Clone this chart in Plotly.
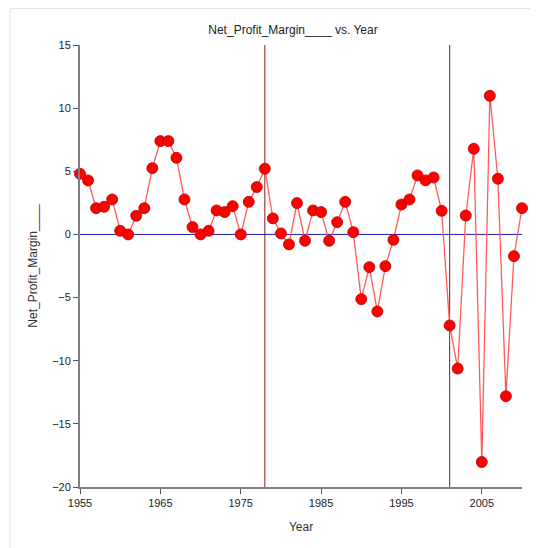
import plotly.graph_objects as go

years = list(range(1955, 2011))
net_profit_margin = [
    4.80, 4.28, 2.08, 2.19, 2.77, 0.29, 0.00, 1.48, 2.08, 5.25,
    7.39, 7.39, 6.07, 2.77, 0.58, 0.00, 0.29, 1.90, 1.77, 2.24,
    0.00, 2.58, 3.75, 5.20, 1.27, 0.08, -0.79, 2.48, -0.50, 1.90,
    1.77, -0.50, 0.97, 2.58, 0.18, -5.13, -2.59, -6.10, -2.51, -0.43,
    2.37, 2.77, 4.67, 4.28, 4.51, 1.87, -7.21, -10.62, 1.50, 6.78,
    -18.02, 10.98, 4.41, -12.81, -1.72, 2.08,
]
x_ticks = [1955, 1965, 1975, 1985, 1995, 2005]
y_ticks = [-20, -15, -10, -5, 0, 5, 10, 15]
vline_years = [1978, 2001]
ref_value = 0

x_range = [1955, 2010]
y_range = [-20, 15]

# page has an 8px body margin, so the figure is 530x540 placed at (8, 8)
W, H = 530, 540
L, R, T, B = 72, 16, 37, 61
pw = W - L - R
ph = H - T - B

font = "Liberation Sans, Arial, sans-serif"

fig = go.Figure()
fig.add_trace(go.Scatter(
    x=years, y=net_profit_margin, mode="lines+markers",
    line=dict(color="#FF5A5A", width=1.3),
    marker=dict(color="#FF0000", size=11, line=dict(color="#B00000", width=0.8)),
    cliponaxis=False, showlegend=False,
))

shapes = []
for vy in vline_years:
    shapes.append(dict(type="line", xref="x", yref="y", x0=vy, x1=vy,
                       y0=y_range[0], y1=y_range[1],
                       line=dict(color="#851A1A", width=1), layer="below"))
shapes.append(dict(type="line", xref="x", yref="y", x0=x_range[0], x1=x_range[1],
                   y0=ref_value, y1=ref_value,
                   line=dict(color="#1A1AA8", width=1), layer="below"))
# light frame
shapes.append(dict(type="rect", xref="paper", yref="paper",
                   x0=(2 - L) / pw, x1=(W + 20 - L) / pw,
                   y0=-(B + 20) / ph, y1=(H - B - 0.5) / ph,
                   line=dict(color="#E4E4E4", width=1), fillcolor="rgba(0,0,0,0)",
                   layer="below"))

fig.update_layout(
    width=W, height=H,
    margin=dict(l=L, r=R, t=T, b=B),
    paper_bgcolor="white", plot_bgcolor="white",
    font=dict(family=font, size=11, color="#222222"),
    title=dict(text="Net_Profit_Margin____ vs. Year", x=(285 - L) / pw, xref="paper",
               xanchor="center", y=1 - 22 / H, yanchor="middle",
               font=dict(family=font, size=12, color="#222222")),
    shapes=shapes,
    xaxis=dict(range=x_range, tickvals=x_ticks, showgrid=False, zeroline=False,
               showline=True, linecolor="#808080", linewidth=2,
               ticks="outside", ticklen=5, tickcolor="#555555", tickwidth=1,
               tickfont=dict(size=11, color="#222222"),
               title=dict(text="Year", font=dict(size=12, color="#333333"), standoff=14)),
    yaxis=dict(range=y_range, tickvals=y_ticks, showgrid=False, zeroline=False,
               showline=True, linecolor="#808080", linewidth=2,
               ticks="outside", ticklen=5, tickcolor="#555555", tickwidth=1,
               tickfont=dict(size=11, color="#222222"),
               title=dict(text="Net_Profit_Margin____", font=dict(size=12, color="#333333"),
                          standoff=12)),
)

fig.write_html("out.html")
